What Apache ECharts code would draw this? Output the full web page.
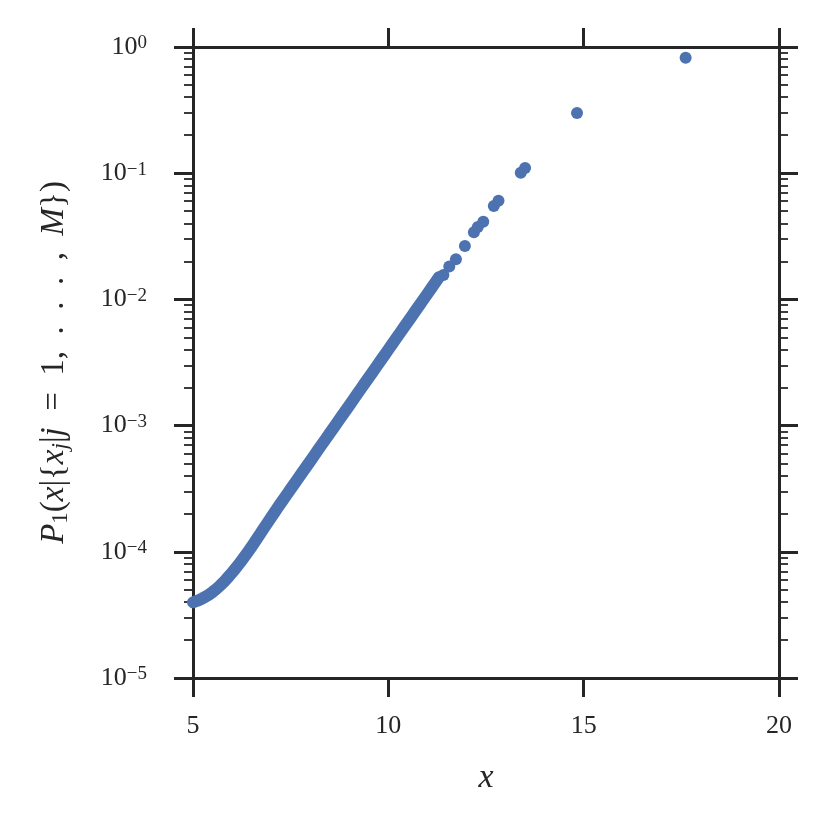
<!DOCTYPE html>
<html>
<head>
<meta charset="utf-8">
<title>P1 scatter</title>
<script src="https://cdn.jsdelivr.net/npm/echarts@6/dist/echarts.min.js"></script>
<style>
  html, body { margin: 0; padding: 0; background: #fff; }
  #main { width: 830px; height: 830px; }
</style>
</head>
<body>
<div id="main"></div>
<script>
// dense part of the curve
var xDense = [5.0, 5.1, 5.2, 5.3, 5.4, 5.5, 5.6, 5.7, 5.8, 5.9,
  6.0, 6.1, 6.2, 6.3, 6.4, 6.5, 6.6, 6.7, 6.8, 6.9,
  7.0, 7.1, 7.2, 7.3, 7.4, 7.5, 7.6, 7.7, 7.8, 7.9,
  8.0, 8.1, 8.2, 8.3, 8.4, 8.5, 8.6, 8.7, 8.8, 8.9,
  9.0, 9.1, 9.2, 9.3, 9.4, 9.5, 9.6, 9.7, 9.8, 9.9,
  10.0, 10.1, 10.2, 10.3, 10.4, 10.5, 10.6, 10.7, 10.8, 10.9,
  11.0, 11.1, 11.2, 11.3]
var yDense = [3.98e-5, 4.08e-5, 4.21e-5, 4.37e-5, 4.56e-5, 4.80e-5, 5.08e-5, 5.42e-5, 5.82e-5, 6.30e-5,
  6.84e-5, 7.46e-5, 8.18e-5, 8.99e-5, 9.91e-5, 1.096e-4, 1.219e-4, 1.358e-4, 1.514e-4, 1.683e-4,
  1.871e-4, 2.080e-4, 2.317e-4, 2.564e-4, 2.838e-4, 3.141e-4, 3.475e-4, 3.855e-4, 4.266e-4, 4.721e-4,
  5.224e-4, 5.781e-4, 6.412e-4, 7.096e-4, 7.852e-4, 8.690e-4, 9.616e-4, 1.067e-3, 1.180e-3, 1.306e-3,
  1.445e-3, 1.600e-3, 1.774e-3, 1.963e-3, 2.173e-3, 2.404e-3, 2.661e-3, 2.951e-3, 3.266e-3, 3.614e-3,
  3.999e-3, 4.426e-3, 4.909e-3, 5.433e-3, 6.012e-3, 6.653e-3, 7.362e-3, 8.166e-3, 9.036e-3, 1.000e-2,
  1.107e-2, 1.225e-2, 1.358e-2, 1.503e-2]
// sparse points at the top end
var xTail = [11.41, 11.56, 11.73, 11.96, 12.19, 12.29, 12.43, 12.70, 12.82, 13.39, 13.50, 14.83, 17.61]
var yTail = [0.0156, 0.0182, 0.0208, 0.0265, 0.034, 0.0375, 0.0413, 0.055, 0.0605, 0.101, 0.110, 0.30, 0.822]

var xTicks = [5, 10, 15, 20]
var yMajor = [1e-5, 1e-4, 1e-3, 1e-2, 1e-1, 1]
var yExponents = ['−5', '−4', '−3', '−2', '−1', '0']
var yMinor = []
for (var d = 0; d < yMajor.length - 1; d++) {
  for (var k = 2; k <= 9; k++) yMinor.push(k * yMajor[d])
}

var ink = '#262626'
var blue = '#4C72B0'
var serif = '"Liberation Serif", "DejaVu Serif", serif'

var densePts = xDense.map(function (x, i) { return [x, yDense[i]] })
var tailPts = xTail.map(function (x, i) { return [x, yTail[i]] })

function yAxisDef(pos, major, withLabels) {
  return {
    type: 'log',
    logBase: 10,
    min: 1e-5,
    max: 1,
    position: pos,
    axisLine: { show: major, lineStyle: { color: ink, width: 3 } },
    axisTick: {
      show: true,
      inside: false,
      length: major ? 19 : 9,
      customValues: major ? yMajor : yMinor,
      lineStyle: { color: ink, width: major ? 3 : 1.8 }
    },
    axisLabel: {
      show: withLabels,
      customValues: yMajor,
      margin: 46,
      formatter: function (v) {
        var idx = yMajor.findIndex(function (m) { return Math.abs(Math.log10(m) - Math.log10(v)) < 1e-6 })
        return '{b|10}{s|' + yExponents[idx] + '}'
      },
      rich: {
        b: { fontFamily: serif, fontSize: 26, lineHeight: 26, color: ink },
        s: { fontFamily: serif, fontSize: 19, lineHeight: 8, verticalAlign: 'top', color: ink }
      }
    },
    splitLine: { show: false },
    minorTick: { show: false }
  }
}

var myChart = echarts.init(document.getElementById('main'))
var option = {
  animation: false,
  backgroundColor: '#fff',
  grid: { left: 193, right: 51, top: 47, bottom: 152, containLabel: false },
  xAxis: [
    {
      type: 'value',
      min: 5, max: 20, interval: 5,
      position: 'bottom',
      name: 'x',
      nameLocation: 'middle',
      nameGap: 83,
      nameTextStyle: { fontFamily: serif, fontStyle: 'italic', fontSize: 34, color: ink },
      axisLine: { onZero: false, lineStyle: { color: ink, width: 3 } },
      axisTick: { inside: false, length: 19, lineStyle: { color: ink, width: 3 } },
      axisLabel: {
        margin: 35, fontFamily: serif, fontSize: 26, color: ink,
        formatter: function (v) { return xTicks.indexOf(v) >= 0 ? String(v) : '' }
      },
      splitLine: { show: false }
    },
    {
      type: 'value',
      min: 5, max: 20, interval: 5,
      position: 'top',
      axisLine: { onZero: false, lineStyle: { color: ink, width: 3 } },
      axisTick: { inside: false, length: 19, lineStyle: { color: ink, width: 3 } },
      axisLabel: { show: false },
      splitLine: { show: false }
    }
  ],
  yAxis: [
    Object.assign(yAxisDef('left', true, true), {
      name: '{i|P}{sb|1}({i|x}|{{i|x}{sbi|j}|{i|j}\u2002=\u20021,\u2002.\u2002.\u2002.\u2002,\u2002{i|M}})',
      nameLocation: 'middle',
      nameGap: 121,
      nameRotate: 90,
      nameTextStyle: {
        fontFamily: serif, fontSize: 33, lineHeight: 36, color: ink,
        rich: {
          i: { fontFamily: serif, fontStyle: 'italic', fontSize: 33, lineHeight: 36, color: ink },
          sb: { fontFamily: serif, fontSize: 23, lineHeight: 12, verticalAlign: 'bottom', color: ink },
          sbi: { fontFamily: serif, fontStyle: 'italic', fontSize: 23, lineHeight: 12, verticalAlign: 'bottom', color: ink }
        }
      }
    }),
    yAxisDef('left', false, false),
    yAxisDef('right', true, false),
    yAxisDef('right', false, false)
  ],
  series: [
    {
      // the dense run of points merges into one band
      type: 'line',
      xAxisIndex: 0,
      yAxisIndex: 0,
      symbol: 'none',
      lineStyle: { color: blue, width: 12, cap: 'round', join: 'round' },
      emphasis: { disabled: true },
      data: densePts
    },
    {
      type: 'scatter',
      xAxisIndex: 0,
      yAxisIndex: 0,
      symbolSize: 12,
      itemStyle: { color: blue, opacity: 1 },
      emphasis: { disabled: true },
      data: tailPts
    }
  ]
}
myChart.setOption(option)
</script>
</body>
</html>
